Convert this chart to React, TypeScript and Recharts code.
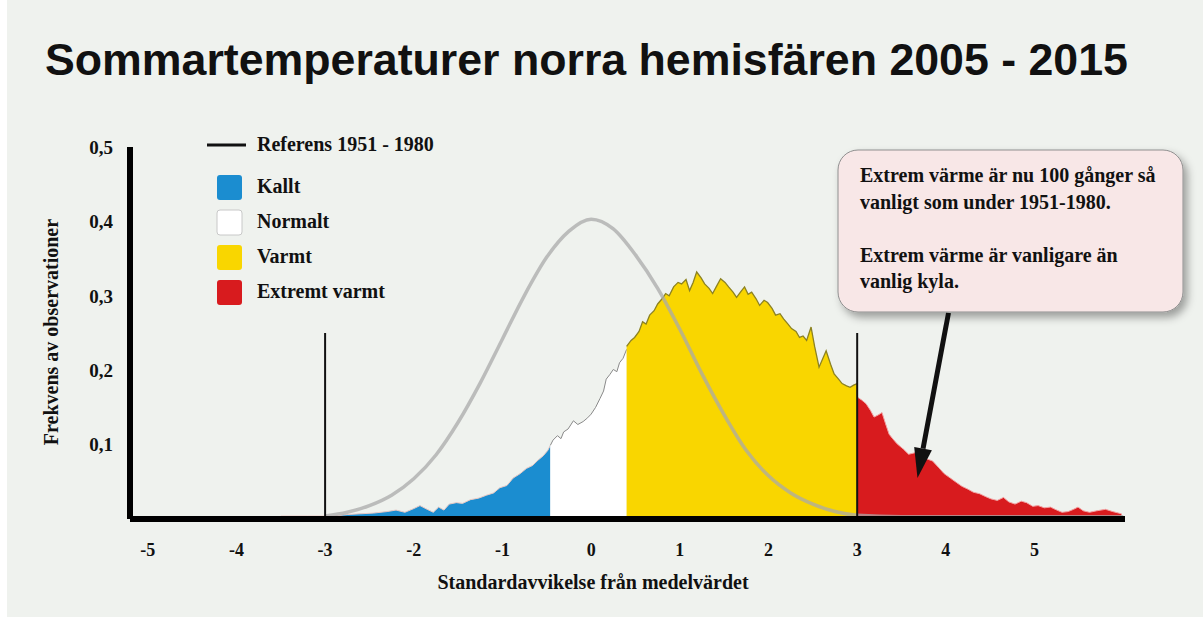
import React from "react";
import {
  ComposedChart,
  Area,
  Line,
  XAxis,
  YAxis,
  ReferenceLine,
} from "recharts";

// observed 2005-2015 distribution, split by category: [std dev, frequency]
const kallt: [number, number][] = [
  [-3.5, 0.004], [-3.2, 0.004], [-2.9, 0.004], [-2.75, 0.006], [-2.6, 0.007],
  [-2.45, 0.008], [-2.3, 0.01], [-2.2, 0.012], [-2.1, 0.009], [-2.0, 0.014],
  [-1.93, 0.018], [-1.85, 0.013], [-1.78, 0.009], [-1.72, 0.016], [-1.66, 0.012],
  [-1.6, 0.02], [-1.52, 0.022], [-1.45, 0.021], [-1.36, 0.026], [-1.27, 0.028],
  [-1.18, 0.032], [-1.1, 0.035], [-1.03, 0.042], [-0.95, 0.045], [-0.88, 0.055],
  [-0.8, 0.061], [-0.73, 0.068], [-0.66, 0.072], [-0.6, 0.079], [-0.54, 0.085],
  [-0.49, 0.092], [-0.46, 0.099],
];

const normalt: [number, number][] = [
  [-0.46, 0.099], [-0.43, 0.106], [-0.38, 0.112], [-0.34, 0.108], [-0.31, 0.117],
  [-0.26, 0.121], [-0.2, 0.132], [-0.15, 0.127], [-0.09, 0.131], [-0.04, 0.136],
  [0.0, 0.141], [0.05, 0.15], [0.1, 0.162], [0.14, 0.172], [0.17, 0.188],
  [0.21, 0.194], [0.25, 0.201], [0.29, 0.198], [0.32, 0.21], [0.36, 0.216],
  [0.4, 0.228],
];

const varmt: [number, number][] = [
  [0.4, 0.232], [0.45, 0.24], [0.49, 0.244], [0.54, 0.252], [0.58, 0.265],
  [0.62, 0.262], [0.66, 0.274], [0.71, 0.28], [0.75, 0.289], [0.8, 0.296],
  [0.84, 0.303], [0.88, 0.3], [0.93, 0.312], [0.98, 0.318], [1.02, 0.316],
  [1.07, 0.322], [1.11, 0.307], [1.15, 0.318], [1.19, 0.332], [1.24, 0.324],
  [1.28, 0.316], [1.33, 0.31], [1.37, 0.303], [1.41, 0.312], [1.46, 0.323],
  [1.51, 0.318], [1.55, 0.312], [1.6, 0.305], [1.64, 0.298], [1.69, 0.306],
  [1.73, 0.312], [1.77, 0.302], [1.81, 0.305], [1.86, 0.296], [1.9, 0.287],
  [1.95, 0.294], [1.99, 0.291], [2.04, 0.283], [2.08, 0.274], [2.13, 0.276],
  [2.17, 0.269], [2.22, 0.262], [2.26, 0.256], [2.31, 0.252], [2.35, 0.244],
  [2.39, 0.246], [2.43, 0.24], [2.48, 0.258], [2.52, 0.232], [2.57, 0.204],
  [2.61, 0.215], [2.65, 0.226], [2.7, 0.208], [2.74, 0.195], [2.79, 0.188],
  [2.83, 0.182], [2.88, 0.179], [2.92, 0.177], [2.96, 0.18], [3.0, 0.182],
];

const extremt: [number, number][] = [
  [3.0, 0.164], [3.05, 0.16], [3.1, 0.155], [3.15, 0.146], [3.19, 0.137],
  [3.24, 0.14], [3.28, 0.143], [3.32, 0.128], [3.36, 0.114], [3.4, 0.108],
  [3.45, 0.101], [3.52, 0.094], [3.58, 0.087], [3.65, 0.089], [3.72, 0.085],
  [3.78, 0.081], [3.85, 0.078], [3.92, 0.069], [3.98, 0.061], [4.05, 0.055],
  [4.12, 0.049], [4.18, 0.044], [4.25, 0.04], [4.31, 0.036], [4.38, 0.034],
  [4.45, 0.03], [4.51, 0.027], [4.58, 0.025], [4.65, 0.029], [4.71, 0.023],
  [4.78, 0.02], [4.85, 0.024], [4.91, 0.022], [4.98, 0.017], [5.04, 0.018],
  [5.11, 0.015], [5.18, 0.016], [5.25, 0.012], [5.31, 0.009], [5.38, 0.01],
  [5.44, 0.013], [5.49, 0.016], [5.55, 0.011], [5.62, 0.009], [5.7, 0.011],
  [5.8, 0.013], [5.88, 0.01], [5.98, 0.007],
];

// reference period 1951-1980
const referens: [number, number][] = [
  [-3, 0.004], [-2.75, 0.009], [-2.5, 0.018], [-2.25, 0.032], [-2, 0.054],
  [-1.75, 0.086], [-1.5, 0.13], [-1.25, 0.183], [-1, 0.242], [-0.75, 0.301],
  [-0.5, 0.352], [-0.25, 0.387], [0, 0.403], [0.25, 0.39], [0.5, 0.355],
  [0.75, 0.31], [1, 0.255], [1.25, 0.195], [1.5, 0.14], [1.75, 0.092],
  [2, 0.058], [2.25, 0.035], [2.5, 0.02], [2.75, 0.01], [3, 0.005],
  [3.5, 0.003], [4, 0.003], [4.5, 0.003], [5, 0.003], [5.5, 0.003], [6, 0.003],
];

const xTicks = [-5, -4, -3, -2, -1, 0, 1, 2, 3, 4, 5];
const yTicks = [0.1, 0.2, 0.3, 0.4, 0.5];

const legendItems = [
  { label: "Kallt", color: "#1b8dd0" },
  { label: "Normalt", color: "#ffffff" },
  { label: "Varmt", color: "#f9d600" },
  { label: "Extremt varmt", color: "#d81b1e" },
];

const calloutLines = [
  "Extrem värme är nu 100 gånger så",
  "vanligt som under 1951-1980.",
  "",
  "Extrem värme är vanligare än",
  "vanlig kyla.",
];

type Row = { x: number; [k: string]: number };

const byX = new Map<number, Row>();
const put = (pts: [number, number][], key: string) => {
  for (const [x, y] of pts) {
    const r = byX.get(x) ?? { x };
    r[key] = y;
    byX.set(x, r);
  }
};
put(kallt, "kallt");
put(normalt, "normalt");
put(varmt, "varmt");
put(extremt, "extremt");
put(referens, "ref");
const data = Array.from(byX.values()).sort((a, b) => a.x - b.x);

const serif = "'Liberation Serif', 'DejaVu Serif', serif";

const Arrow = (p: any) => {
  const { x1, y1, x2, y2 } = p;
  const dx = x2 - x1;
  const dy = y2 - y1;
  const len = Math.sqrt(dx * dx + dy * dy);
  const ux = dx / len;
  const uy = dy / len;
  const head = 30;
  const bx = x2 - ux * head;
  const by = y2 - uy * head;
  return (
    <g>
      <line x1={x1} y1={y1} x2={bx} y2={by} stroke="#111" strokeWidth={5} />
      <polygon
        points={`${x2},${y2} ${bx - uy * 9},${by + ux * 9} ${bx + uy * 9},${by - ux * 9}`}
        fill="#111"
      />
    </g>
  );
};

export default function App() {
  return (
    <div
      style={{
        position: "absolute",
        left: 0,
        top: 0,
        width: 1203,
        height: 617,
        background: "#eff2ee",
      }}
    >
      <div style={{ position: "absolute", left: 0, top: 0, width: 7, height: 617, background: "#fff" }} />
      <ComposedChart
        width={1203}
        height={617}
        data={data}
        margin={{ top: 147, right: 78, bottom: 0, left: 0 }}
        style={{ position: "absolute", left: 0, top: 0 }}
      >
        <Area
          type="linear"
          dataKey="kallt"
          fill="#1b8dd0"
          fillOpacity={1}
          stroke="#e9c9c4"
          strokeWidth={1}
          connectNulls
          isAnimationActive={false}
        />
        <Area
          type="linear"
          dataKey="normalt"
          fill="#ffffff"
          fillOpacity={1}
          stroke="#8a8a8a"
          strokeWidth={1}
          connectNulls
          isAnimationActive={false}
        />
        <Area
          type="linear"
          dataKey="varmt"
          fill="#f9d600"
          fillOpacity={1}
          stroke="#8c8222"
          strokeWidth={1.3}
          connectNulls
          isAnimationActive={false}
        />
        <Area
          type="linear"
          dataKey="extremt"
          fill="#d81b1e"
          fillOpacity={1}
          stroke="#f2a3a3"
          strokeWidth={1}
          connectNulls
          isAnimationActive={false}
        />
        <Line
          type="monotone"
          dataKey="ref"
          stroke="#a9a9a9"
          strokeOpacity={0.75}
          strokeWidth={3.5}
          dot={false}
          connectNulls
          isAnimationActive={false}
        />
        <ReferenceLine
          segment={[{ x: -3, y: 0 }, { x: -3, y: 0.25 }]}
          stroke="#111"
          strokeWidth={2}
        />
        <ReferenceLine
          segment={[{ x: 3, y: 0 }, { x: 3, y: 0.25 }]}
          stroke="#111"
          strokeWidth={2}
        />
        <ReferenceLine
          segment={[{ x: 4.03, y: 0.277 }, { x: 3.68, y: 0.055 }]}
          shape={Arrow}
        />
        <XAxis
          dataKey="x"
          type="number"
          domain={[-5.2, 6.02]}
          ticks={xTicks}
          allowDataOverflow
          height={98}
          axisLine={{ stroke: "#000", strokeWidth: 6 }}
          tickLine={false}
          tickSize={0}
          tickMargin={24}
          tick={{ fill: "#111", fontSize: 18, fontFamily: serif, fontWeight: 700 }}
        />
        <YAxis
          type="number"
          domain={[0, 0.5]}
          ticks={yTicks}
          width={130}
          axisLine={{ stroke: "#000", strokeWidth: 6 }}
          tickLine={false}
          tickSize={0}
          tickMargin={17}
          tickFormatter={(v: number) => v.toFixed(1).replace(".", ",")}
          tick={{ fill: "#111", fontSize: 19, fontFamily: serif, fontWeight: 700 }}
        />
      </ComposedChart>
      <svg
        width={1203}
        height={617}
        style={{ position: "absolute", left: 0, top: 0, pointerEvents: "none" }}
      >
        <defs>
          <filter id="boxShadow" x="-10%" y="-10%" width="125%" height="135%">
            <feDropShadow dx="4" dy="5" stdDeviation="4" floodColor="#000" floodOpacity="0.35" />
          </filter>
        </defs>
        <text
          x={45}
          y={75}
          fontFamily="'Liberation Sans', Arial, sans-serif"
          fontWeight={700}
          fontSize={44.7}
          fill="#111"
        >
          Sommartemperaturer norra hemisfären 2005 - 2015
        </text>

        {/* legend */}
        <line x1={207} y1={145} x2={246} y2={145} stroke="#111" strokeWidth={3} />
        <text x={257} y={151} fontFamily={serif} fontWeight={700} fontSize={20} fill="#111">
          Referens 1951 - 1980
        </text>
        {legendItems.map((it, i) => (
          <g key={it.label}>
            <rect
              x={217}
              y={175 + i * 35}
              width={25}
              height={25}
              rx={3}
              fill={it.color}
              stroke={it.color === "#ffffff" ? "#c8c8c8" : "none"}
            />
            <text
              x={257}
              y={193 + i * 35}
              fontFamily={serif}
              fontWeight={700}
              fontSize={20}
              fill="#111"
            >
              {it.label}
            </text>
          </g>
        ))}

        {/* axis titles */}
        <text
          x={593}
          y={589}
          textAnchor="middle"
          fontFamily={serif}
          fontWeight={700}
          fontSize={20}
          fill="#111"
        >
          Standardavvikelse från medelvärdet
        </text>
        <text
          transform="translate(58,332) rotate(-90)"
          textAnchor="middle"
          fontFamily={serif}
          fontWeight={700}
          fontSize={20}
          fill="#111"
        >
          Frekvens av observationer
        </text>

        {/* callout */}
        <rect
          x={838}
          y={150}
          width={345}
          height={162}
          rx={20}
          fill="#f8e7e7"
          stroke="#8f8f8f"
          strokeWidth={1}
          filter="url(#boxShadow)"
        />
        {calloutLines.map((t, i) =>
          t ? (
            <text
              key={i}
              x={860}
              y={182 + i * 26.5}
              fontFamily={serif}
              fontWeight={700}
              fontSize={20}
              fill="#111"
            >
              {t}
            </text>
          ) : null
        )}
      </svg>
    </div>
  );
}
